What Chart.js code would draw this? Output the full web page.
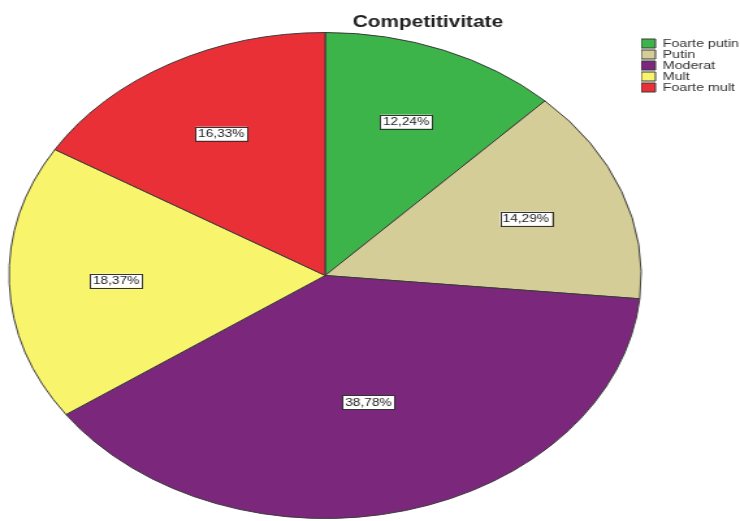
<!DOCTYPE html>
<html lang="ro">
<head>
  <meta charset="UTF-8">
  <title>Competitivitate</title>
  <style>
    body {
      margin: 0;
      padding: 0;
      background: #fff;
    }
  </style>
  <script src="https://cdn.jsdelivr.net/npm/chart.js"></script>
</head>
<body>
  <!-- drawn narrow, shown wide: the pie becomes an ellipse -->
  <canvas id="chart" width="569" height="521" style="width:740px;height:521px;display:block"></canvas>

  <script>
    // Date
    const categories = ["Foarte putin", "Putin", "Moderat", "Mult", "Foarte mult"];
    const percentages = [12.24, 14.29, 38.78, 18.37, 16.33];
    const colors = ["#3db449", "#d4cd97", "#7b287c", "#f8f46c", "#ea3037"];

    const FONT = "'Liberation Sans', Arial, sans-serif";

    // titlu deasupra graficului
    const titlePlugin = {
      id: 'titluGrafic',
      afterDraw(chart) {
        const ctx = chart.ctx;
        ctx.save();
        ctx.font = "bold 16px " + FONT;
        ctx.fillStyle = "#222";
        ctx.textAlign = "center";
        ctx.textBaseline = "alphabetic";
        ctx.fillText("Competitivitate", 329, 26.5);
        ctx.restore();
      }
    };

    // etichete cu procente, in centrul de greutate al fiecarei felii
    const labelPlugin = {
      id: 'etichete',
      afterDatasetsDraw(chart) {
        const ctx = chart.ctx;
        const meta = chart.getDatasetMeta(0);
        ctx.save();
        ctx.font = "10.5px " + FONT;
        ctx.textAlign = "center";
        ctx.textBaseline = "middle";
        meta.data.forEach((arc, i) => {
          const p = arc.getProps(['x', 'y', 'startAngle', 'endAngle', 'outerRadius'], true);
          const theta = p.endAngle - p.startAngle;
          const mid = (p.startAngle + p.endAngle) / 2;
          const d = 1.05 * 4 * p.outerRadius * Math.sin(theta / 2) / (3 * theta);
          const x = p.x + Math.cos(mid) * d;
          const y = p.y + Math.sin(mid) * d;
          const text = percentages[i].toFixed(2).replace('.', ',') + '%';
          const w = ctx.measureText(text).width + 4;
          const h = 14;
          ctx.fillStyle = "#fff";
          ctx.fillRect(x - w / 2, y - h / 2, w, h);
          ctx.strokeStyle = "#333";
          ctx.lineWidth = 1;
          ctx.strokeRect(Math.round(x - w / 2) + 0.5, Math.round(y - h / 2) + 0.5, Math.round(w), h);
          ctx.fillStyle = "#222";
          ctx.fillText(text, x, y + 0.5);
        });
        ctx.restore();
      }
    };

    new Chart(document.getElementById('chart'), {
      type: 'pie',
      data: {
        labels: categories,
        datasets: [{
          data: percentages,
          backgroundColor: colors,
          borderColor: "#3a3a3a",
          borderWidth: 1,
          radius: 243,
          clip: false
        }]
      },
      options: {
        responsive: false,
        animation: false,
        devicePixelRatio: 1,
        layout: {
          padding: { top: 38, bottom: 8, left: 7, right: 0 }
        },
        plugins: {
          title: { display: false },
          tooltip: { enabled: false },
          legend: {
            position: 'right',
            align: 'start',
            maxWidth: 76,
            labels: {
              boxWidth: 11,
              boxHeight: 9,
              padding: 0,
              color: "#333",
              font: { family: FONT, size: 11 }
            }
          }
        }
      },
      plugins: [titlePlugin, labelPlugin]
    });
  </script>
</body>
</html>
